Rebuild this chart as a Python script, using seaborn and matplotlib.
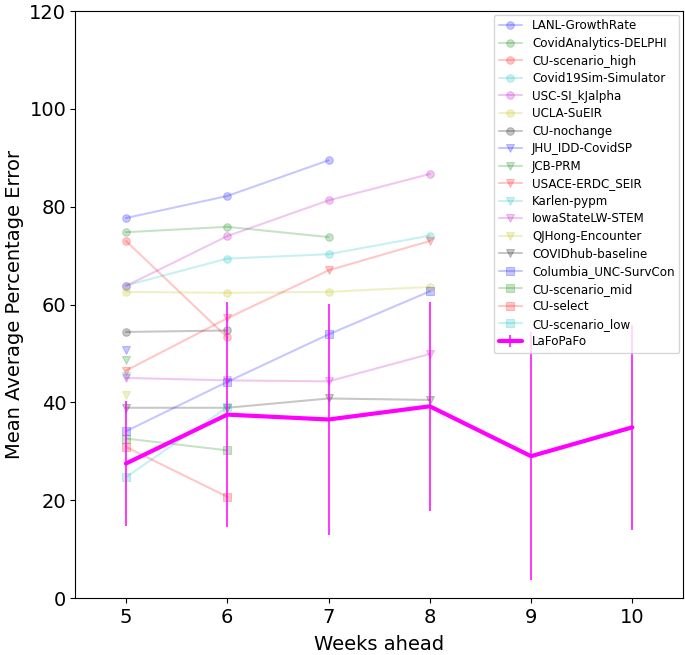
import numpy as np
import pandas as pd
import matplotlib
matplotlib.use("Agg")
import matplotlib.pyplot as plt
import seaborn as sns

sns.set_style("ticks")
plt.rcParams['font.family'] = ['DejaVu Sans']
plt.rcParams['text.color'] = 'black'
plt.rcParams['axes.labelcolor'] = 'black'
plt.rcParams['xtick.color'] = 'black'
plt.rcParams['ytick.color'] = 'black'

weeks = [5, 6, 7, 8]
nan = np.nan

# circles
lanl = [77.7, 82.2, 89.5, nan]
delphi = [74.8, 75.9, 73.8, nan]
cu_high = [73.0, 53.3, nan, nan]
covid19sim = [63.9, 69.4, 70.3, 74.1]
usc = [63.8, 74.0, 81.3, 86.7]
ucla = [62.6, 62.4, 62.6, 63.6]
cu_nochange = [54.4, 54.7, nan, nan]
# triangles
jhu = [50.8, nan, nan, nan]
jcb = [48.6, nan, nan, nan]
usace = [46.5, 57.2, 67.0, 73.0]
karlen = [45.4, nan, nan, nan]
iowa = [45.0, 44.5, 44.3, 49.9]
qjhong = [41.6, nan, nan, nan]
baseline = [38.9, 38.9, 40.8, 40.5]
# squares
columbia = [34.1, 44.2, 53.9, 62.7]
cu_mid = [32.6, 30.2, nan, nan]
cu_select = [30.9, 20.7, nan, nan]
cu_low = [24.7, 39.0, nan, nan]

models = ["LANL-GrowthRate", "CovidAnalytics-DELPHI", "CU-scenario_high",
          "Covid19Sim-Simulator", "USC-SI_kJalpha", "UCLA-SuEIR", "CU-nochange",
          "JHU_IDD-CovidSP", "JCB-PRM", "USACE-ERDC_SEIR", "Karlen-pypm",
          "IowaStateLW-STEM", "QJHong-Encounter", "COVIDhub-baseline",
          "Columbia_UNC-SurvCon", "CU-scenario_mid", "CU-select", "CU-scenario_low"]
values = [lanl, delphi, cu_high, covid19sim, usc, ucla, cu_nochange,
          jhu, jcb, usace, karlen, iowa, qjhong, baseline,
          columbia, cu_mid, cu_select, cu_low]

lafo_weeks = [5, 6, 7, 8, 9, 10]
lafo_mape = [27.5, 37.5, 36.5, 39.2, 29.0, 34.9]
lafo_err = [12.8, 23.0, 23.6, 21.4, 25.4, 20.9]

colors = ["b", "g", "r", "c", "m", "y", "k"]
markers = ["o"] * 7 + ["v"] * 7 + ["s"] * 4

fig, ax = plt.subplots(figsize=(6.85, 6.55), dpi=100)
fig.subplots_adjust(left=0.11, right=0.997, bottom=0.087, top=0.983)

for i, (name, vals) in enumerate(zip(models, values)):
    df = pd.DataFrame({"week": weeks, "mape": vals}).dropna()
    sns.lineplot(data=df, x="week", y="mape", ax=ax, color=colors[i % 7],
                 marker=markers[i], markersize=5.5, alpha=0.22, linewidth=1.5,
                 markeredgecolor=colors[i % 7], label=name)

ax.errorbar(lafo_weeks, lafo_mape, yerr=lafo_err, color="#ff00ff",
            linewidth=3, elinewidth=1.1, label="LaFoPaFo")

ax.set_xlim(4.5, 10.5)
ax.set_ylim(0, 120)
ax.set_xticks([5, 6, 7, 8, 9, 10])
ax.tick_params(labelsize=14)
ax.tick_params(axis="y", pad=3)
ax.set_xlabel("Weeks ahead", fontsize=14, labelpad=6)
ax.set_ylabel("Mean Average Percentage Error", fontsize=14)
for s in ax.spines.values():
    s.set_color("black")
ax.legend(loc="upper right", fontsize=8.6, framealpha=0.8, labelspacing=0.38,
          borderaxespad=0.3)

plt.savefig("out.png")
plt.close()
